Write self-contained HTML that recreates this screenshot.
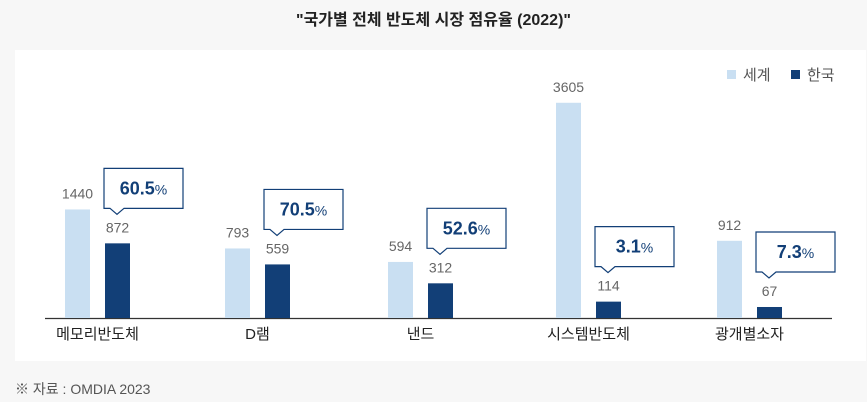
<!DOCTYPE html>
<html><head><meta charset="utf-8">
<style>
body{margin:0;width:867px;height:402px;background:#f7f7f7;font-family:"Liberation Sans","Noto Sans CJK KR",sans-serif;overflow:hidden;position:relative}
#title{position:absolute;top:6px;left:0;width:867px;text-align:center;font-size:16px;font-weight:bold;color:#222}
#panel{position:absolute;left:15px;top:50px;width:851px;height:311px;background:#fff}
#foot{position:absolute;left:15px;top:379px;font-size:14px;color:#555}
</style></head><body>
<div id="title">"국가별 전체 반도체 시장 점유율 (2022)"</div>
<div id="panel"></div>
<svg id="chart" width="867" height="402" style="position:absolute;left:0;top:0" font-family="Liberation Sans, Noto Sans CJK KR, sans-serif"></svg>
<div id="foot">※ 자료 : OMDIA 2023</div>
<script>
const categories=["메모리반도체","D램","낸드","시스템반도체","광개별소자"];
const worldValues=[1440,793,594,3605,912];
const koreaValues=[872,559,312,114,67];
const shareLabels=["60.5","70.5","52.6","3.1","7.3"];
const NS="http://www.w3.org/2000/svg";
const svg=document.getElementById('chart');
const baseY=318;
const groupX=[65,225,388,556,717];
function yH(v){return 0.478*Math.pow(v,0.746);}
function mk(t,a,txt){const e=document.createElementNS(NS,t);for(const k in a)e.setAttribute(k,a[k]);if(txt!==undefined)e.textContent=txt;svg.appendChild(e);return e;}
const axis=mk('line',{x1:45,x2:832,y1:baseY+0.5,y2:baseY+0.5,stroke:'#333','stroke-width':1.2});


categories.forEach((c,i)=>{
  const x=groupX[i];
  const hw=yH(worldValues[i]);
  const b1=mk('rect',{x:x,y:baseY-hw,width:25,height:hw,fill:'#c9dff2'});
  
  
  const l1=mk('text',{x:x+12.5,y:baseY-hw-11,'text-anchor':'middle','font-size':14,fill:'#666'},worldValues[i]);
  
  
  const hk=yH(koreaValues[i]);
  const kx=x+40;
  const b2=mk('rect',{x:kx,y:baseY-hk,width:25,height:hk,fill:'#123f77'});
  
  
  const l2=mk('text',{x:kx+12.5,y:baseY-hk-11,'text-anchor':'middle','font-size':14,fill:'#666'},koreaValues[i]);
  
  
  const bb=baseY-hk-35, bt=bb-40, bl=kx-1, br=kx+78, px=kx+12;
  const co=mk('path',{d:`M${bl},${bt}H${br}V${bb}H${px+7}L${px},${bb+6}L${px-7},${bb}H${bl}Z`,fill:'#fff',stroke:'#123f77','stroke-width':1.2});
  
  
  const t=mk('text',{x:(bl+br)/2,y:bt+26,'text-anchor':'middle',fill:'#123f77'});
  
  
  const s1=document.createElementNS(NS,'tspan');s1.setAttribute('font-size',18);s1.setAttribute('font-weight','bold');s1.textContent=shareLabels[i];t.appendChild(s1);
  const s2=document.createElementNS(NS,'tspan');s2.setAttribute('font-size',14);s2.textContent='%';t.appendChild(s2);
  const cl=mk('text',{x:x+32.5,y:339,'text-anchor':'middle','font-size':15,fill:'#222'},c);
  
  
});
const lg1=mk('rect',{x:727,y:70,width:9,height:9,fill:'#c9dff2'});


const lt1=mk('text',{x:743,y:80,'font-size':15,fill:'#555'},'세계');


const lg2=mk('rect',{x:791,y:70,width:9,height:9,fill:'#123f77'});


const lt2=mk('text',{x:807,y:80,'font-size':15,fill:'#555'},'한국');


</script>
</body></html>
